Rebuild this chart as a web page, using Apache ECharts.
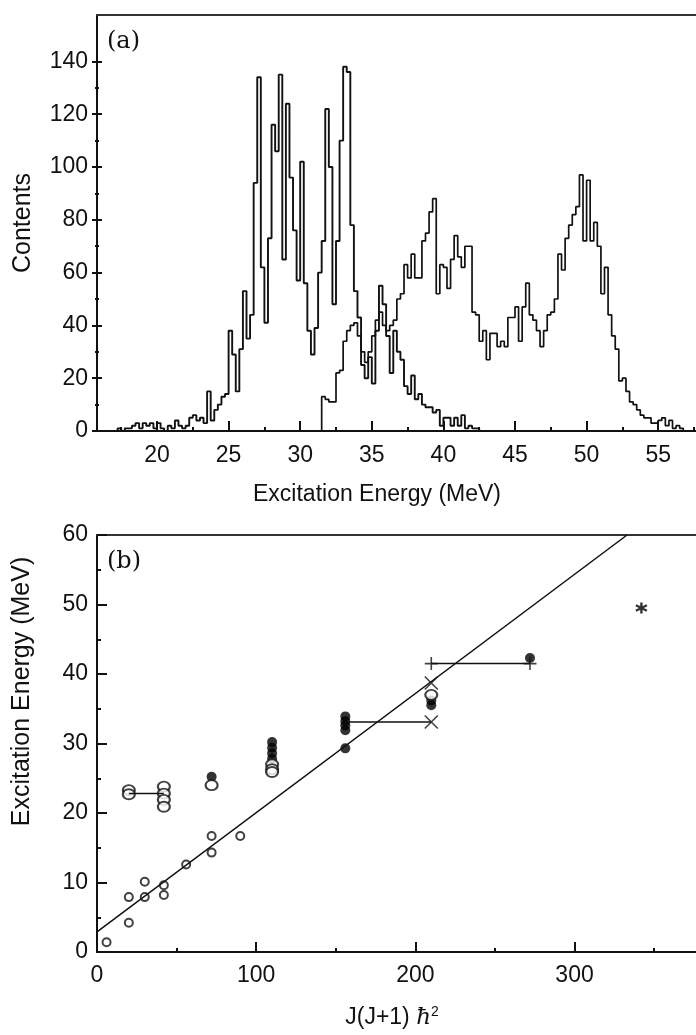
<!DOCTYPE html>
<html>
<head>
<meta charset="utf-8">
<script src="https://cdn.jsdelivr.net/npm/echarts@6/dist/echarts.min.js"></script>
<style>
  html, body { margin: 0; padding: 0; background: #fff; }
  #main { width: 696px; height: 1035px; }
</style>
</head>
<body>
<div id="main"></div>
<script>
// ---- panel (a): two excitation-energy spectra, 0.25 MeV bins ----
const binWidth = 0.25;
const lowStart = 17.0;
const lowCounts = [
  0, 1, 0, 1, 1, 2, 3, 1, 3, 2, 3, 1, 3, 1, 0, 2, 1, 4, 2, 1,
  2, 5, 6, 4, 5, 3, 15, 4, 8, 10, 13, 14, 38, 29, 15, 31, 53, 35, 44, 94,
  134, 62, 41, 73, 116, 106, 135, 65, 124, 96, 76, 57, 102, 56, 38, 29, 39, 60, 72, 122,
  100, 48, 72, 110, 138, 136, 78, 53, 43, 25, 20, 28, 18, 38, 55, 48, 36, 22, 38, 30,
  27, 17, 14, 21, 12, 14, 10, 9, 9, 7, 8, 2, 5, 5, 2, 5, 2, 6, 1, 2, 1, 1
];
const highStart = 31.5;
const highCounts = [
  13, 12, 11, 11, 22, 23, 34, 38, 40, 41, 36, 30, 26, 30, 36, 42, 45, 40, 38, 40,
  42, 50, 52, 63, 58, 67, 58, 58, 72, 75, 83, 88, 52, 63, 62, 54, 65, 74, 66, 62,
  70, 70, 45, 44, 34, 38, 27, 37, 37, 32, 34, 32, 43, 43, 47, 34, 47, 56, 44, 42,
  38, 32, 38, 44, 45, 50, 67, 61, 73, 78, 82, 85, 97, 72, 95, 72, 79, 70, 52, 62,
  44, 36, 31, 19, 20, 15, 11, 10, 8, 6, 5, 5, 3, 3, 4, 5, 2, 4, 1, 2, 1
];
const energyTicks = [20, 25, 30, 35, 40, 45, 50, 55];
const energyMinor = [17.5, 22.5, 27.5, 32.5, 37.5, 42.5, 47.5, 52.5, 57.5];
const countTicks = [0, 20, 40, 60, 80, 100, 120, 140];
const countMinor = [10, 30, 50, 70, 90, 110, 130];

// ---- panel (b): excitation energy vs J(J+1) ----
const openSmall = [[6, 1.4], [20, 4.2], [20, 7.9], [30, 10.1], [30, 7.9], [42, 8.2], [42, 9.6],
  [56, 12.6], [72, 16.7], [72, 14.3], [90, 16.7]];
const openLarge = [[20, 23.3], [20, 22.7], [42, 23.8], [42, 22.8], [42, 21.9], [42, 20.9],
  [72, 24.0], [110, 27.0], [110, 26.3], [110, 25.9], [210, 37.0]];
const filled = [[72, 25.2], [110, 30.2], [110, 29.4], [110, 28.6], [110, 27.8],
  [156, 33.9], [156, 33.2], [156, 32.6], [156, 31.9], [156, 29.3],
  [210, 36.2], [210, 35.5], [272, 42.3]];
const crosses = [[210, 38.7], [210, 33.1]];
const pluses = [[210, 41.5], [272, 41.5]];
const stars = [[342, 49.5]];
const hBars = [[20, 42, 22.8], [156, 210, 33.1], [210, 272, 41.5]];
const fitLine = [[0, 2.9], [333, 60]];
const spinTicks = [0, 100, 200, 300];
const spinMinor = [50, 150, 250, 350];
const eTicks = [0, 10, 20, 30, 40, 50, 60];
const eMinor = [5, 15, 25, 35, 45, 55];

const FONT = 'Liberation Sans';
const INK = '#111';

function stepPoints(start, counts) {
  const pts = [[start, 0]];
  counts.forEach((c, i) => pts.push([start + i * binWidth, c]));
  pts.push([start + counts.length * binWidth, 0]);
  return pts;
}

// axis carrying only ticks that cross the real axis line
function tickAxis(kind, gridIndex, min, max, values, half) {
  return {
    type: 'value', gridIndex, min, max,
    position: kind === 'x' ? 'bottom' : 'left',
    offset: half,
    axisLine: { show: false },
    splitLine: { show: false },
    axisLabel: { show: false },
    axisTick: { show: true, inside: true, length: half * 2, customValues: values,
      lineStyle: { color: INK, width: 2 } }
  };
}

const labelStyle = { fontFamily: FONT, fontSize: 23, color: INK };

const aX = [15.81, 57.64], aY = [0, 157.6];
const bX = [0, 376.3], bY = [0, 60];

const xAxes = [
  {
    type: 'value', gridIndex: 0, min: aX[0], max: aX[1], position: 'bottom',
    axisLine: { lineStyle: { color: INK, width: 2 } },
    axisTick: { show: false }, splitLine: { show: false },
    axisLabel: Object.assign({ customValues: energyTicks, margin: 13 }, labelStyle),
    name: 'Excitation Energy (MeV)', nameLocation: 'middle', nameGap: 52,
    nameTextStyle: { fontFamily: FONT, fontSize: 23, color: INK, padding: [0, 39, 0, 0] }
  },
  tickAxis('x', 0, aX[0], aX[1], energyTicks, 5),
  tickAxis('x', 0, aX[0], aX[1], energyMinor, 2),
  {
    type: 'value', gridIndex: 0, min: aX[0], max: aX[1], position: 'top',
    axisLine: { lineStyle: { color: '#333', width: 2 } },
    axisTick: { show: false }, axisLabel: { show: false }, splitLine: { show: false }
  },
  {
    type: 'value', gridIndex: 1, min: bX[0], max: bX[1], position: 'bottom',
    axisLine: { lineStyle: { color: INK, width: 2 } },
    axisTick: { show: false }, splitLine: { show: false },
    axisLabel: Object.assign({ customValues: spinTicks, margin: 12 }, labelStyle),
    name: 'J(J+1) {h|ħ}{s|2}', nameLocation: 'middle', nameGap: 53,
    nameTextStyle: {
      fontFamily: FONT, fontSize: 23, color: INK, padding: [0, 9, 0, 0],
      rich: {
        h: { fontFamily: 'DejaVu Serif', fontStyle: 'italic', fontSize: 23, color: INK },
        s: { fontFamily: FONT, fontSize: 14, color: INK, verticalAlign: 'top', padding: [0, 0, 12, 0] }
      }
    }
  },
  tickAxis('x', 1, bX[0], bX[1], spinTicks, 5),
  tickAxis('x', 1, bX[0], bX[1], spinMinor, 2),
  {
    type: 'value', gridIndex: 1, min: bX[0], max: bX[1], position: 'top',
    axisLine: { lineStyle: { color: '#333', width: 2 } },
    axisTick: { show: false }, axisLabel: { show: false }, splitLine: { show: false }
  }
];

const yAxes = [
  {
    type: 'value', gridIndex: 0, min: aY[0], max: aY[1], position: 'left',
    axisLine: { lineStyle: { color: INK, width: 2 } },
    axisTick: { show: false }, splitLine: { show: false },
    axisLabel: Object.assign({ customValues: countTicks, margin: 9 }, labelStyle),
    name: 'Contents', nameLocation: 'middle', nameGap: 61,
    nameTextStyle: { fontFamily: FONT, fontSize: 25, color: INK }
  },
  tickAxis('y', 0, aY[0], aY[1], countTicks, 5),
  tickAxis('y', 0, aY[0], aY[1], countMinor, 2),
  {
    type: 'value', gridIndex: 1, min: bY[0], max: bY[1], position: 'left',
    axisLine: { lineStyle: { color: INK, width: 2 } },
    axisTick: { show: false }, splitLine: { show: false },
    axisLabel: Object.assign({ customValues: eTicks, margin: 9 }, labelStyle),
    name: 'Excitation Energy (MeV)', nameLocation: 'middle', nameGap: 62,
    nameTextStyle: { fontFamily: FONT, fontSize: 25, color: INK, padding: [0, 0, 0, 104] }
  },
  tickAxis('y', 1, bY[0], bY[1], eTicks, 5),
  tickAxis('y', 1, bY[0], bY[1], eMinor, 2)
];

const strokeSym = { color: INK, borderColor: INK, borderWidth: 1.6 };

const series = [
  {
    type: 'line', xAxisIndex: 0, yAxisIndex: 0, step: 'end', symbol: 'none',
    data: stepPoints(lowStart, lowCounts),
    lineStyle: { color: INK, width: 1.9 }, animation: false
  },
  {
    type: 'line', xAxisIndex: 0, yAxisIndex: 0, step: 'end', symbol: 'none',
    data: stepPoints(highStart, highCounts),
    lineStyle: { color: INK, width: 1.7 }, animation: false
  },
  {
    type: 'line', xAxisIndex: 4, yAxisIndex: 3, symbol: 'none', data: fitLine,
    lineStyle: { color: INK, width: 1.5 }, animation: false
  }
];
hBars.forEach(b => series.push({
  type: 'line', xAxisIndex: 4, yAxisIndex: 3, symbol: 'none',
  data: [[b[0], b[2]], [b[1], b[2]]],
  lineStyle: { color: INK, width: 1.5 }, animation: false
}));
series.push(
  { type: 'scatter', xAxisIndex: 4, yAxisIndex: 3, symbol: 'emptyCircle', symbolSize: 8,
    data: openSmall, itemStyle: { color: INK, borderWidth: 1.3 }, animation: false },
  { type: 'scatter', xAxisIndex: 4, yAxisIndex: 3, symbol: 'circle', symbolSize: 10,
    data: filled, itemStyle: { color: '#000' }, animation: false },
  { type: 'scatter', xAxisIndex: 4, yAxisIndex: 3, symbol: 'emptyCircle', symbolSize: [12, 10],
    data: openLarge, itemStyle: { color: INK, borderWidth: 1.5 }, animation: false },
  { type: 'scatter', xAxisIndex: 4, yAxisIndex: 3, symbol: 'path://M0 0L10 10M10 0L0 10', symbolSize: 13,
    data: crosses, itemStyle: strokeSym, animation: false },
  { type: 'scatter', xAxisIndex: 4, yAxisIndex: 3, symbol: 'path://M5 0L5 10M0 5L10 5', symbolSize: 13,
    data: pluses, itemStyle: strokeSym, animation: false },
  { type: 'scatter', xAxisIndex: 4, yAxisIndex: 3, symbol: 'path://M5 0L5 10M0 2.5L10 7.5M0 7.5L10 2.5', symbolSize: 11,
    data: stars, itemStyle: { color: '#000', borderColor: '#000', borderWidth: 2.4 }, animation: false }
);

const chart = echarts.init(document.getElementById('main'));
chart.setOption({
  backgroundColor: '#fff',
  animation: false,
  title: [
    { text: '(a)', left: 102, top: 25, textStyle: { fontFamily: 'DejaVu Serif', fontSize: 24, fontWeight: 'normal', color: INK } },
    { text: '(b)', left: 102, top: 545, textStyle: { fontFamily: 'DejaVu Serif', fontSize: 24, fontWeight: 'normal', color: INK } }
  ],
  grid: [
    { left: 97, right: 0, top: 15, bottom: 604, containLabel: false, outerBoundsMode: 'none' },
    { left: 97, right: 0, top: 535, bottom: 83, containLabel: false, outerBoundsMode: 'none' }
  ],
  xAxis: xAxes,
  yAxis: yAxes,
  series: series
});
</script>
</body>
</html>
